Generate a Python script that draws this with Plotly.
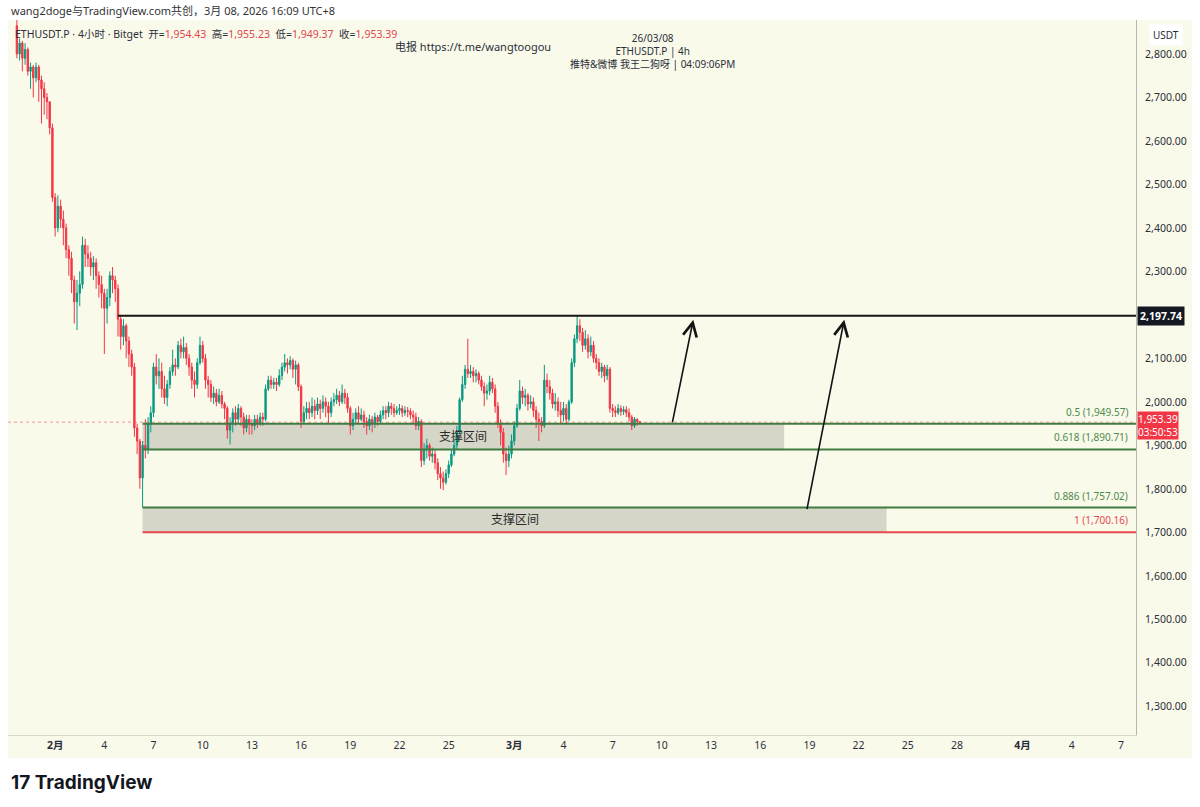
import plotly.graph_objects as go
import pandas as pd

# ---------------- data (4h candles, ETHUSDT.P) ----------------
first_open = 2865
close = [
    2800, 2825,
    2790, 2810, 2760, 2770, 2745, 2770,
    2740, 2720, 2700, 2690, 2630, 2470,
    2400, 2450, 2420, 2400, 2350, 2330,
    2280, 2230, 2250, 2270, 2360, 2340,
    2330, 2310, 2320, 2290, 2270, 2250,
    2215, 2240, 2290, 2280, 2260, 2190,
    2150, 2175, 2140, 2110, 2080, 1940,
    1910, 1825, 1900, 1890, 1950, 1975,
    2080, 2060, 2070, 2030, 2010, 2040,
    2070, 2085, 2080, 2130, 2115, 2125,
    2100, 2080, 2050, 2040, 2090, 2130,
    2100, 2050, 2040, 2010, 2020, 2000,
    2015, 1995, 1985, 1935, 1950, 1975,
    1960, 1985, 1965, 1940, 1960, 1950,
    1945, 1960, 1950, 1965, 1960, 2030,
    2050, 2040, 2045, 2040, 2060, 2080,
    2090, 2085, 2095, 2075, 2085, 2035,
    1955, 1975, 1985, 1975, 1990, 1980,
    1995, 1985, 2000, 1990, 1975, 2000,
    2005, 2015, 2000, 2020, 2010, 1985,
    1945, 1960, 1975, 1960, 1970, 1955,
    1945, 1960, 1950, 1965, 1955, 1970,
    1980, 1975, 1990, 1985, 1975, 1980,
    1985, 1975, 1980, 1978, 1970, 1965,
    1945, 1955, 1865, 1890, 1900, 1875,
    1880, 1860, 1835, 1825, 1815, 1835,
    1855, 1880, 1900, 1930, 2005, 2040,
    2075, 2065, 2070, 2060, 2065, 2050,
    2035, 2020, 2025, 2045, 2030, 1990,
    1950, 1930, 1880, 1865, 1880, 1910,
    1945, 1985, 2025, 2010, 2015, 1995,
    2000, 1980, 1960, 1955, 1945, 2050,
    2035, 2020, 1995, 2000, 1980, 1970,
    1985, 1960, 2000, 2090, 2145, 2175,
    2160, 2130, 2145, 2115, 2130, 2100,
    2090, 2070, 2080, 2060, 2075, 1985,
    1980, 1975, 1985, 1978, 1982, 1975,
    1965, 1945, 1960, 1954.43, 1953.39,
]
high = [
    2878, 2835,
    2830, 2825, 2815, 2780, 2775, 2780,
    2775, 2750, 2735, 2710, 2690, 2640,
    2480, 2475, 2465, 2440, 2410, 2360,
    2345, 2290, 2280, 2300, 2380, 2375,
    2360, 2345, 2335, 2330, 2300, 2290,
    2260, 2260, 2300, 2310, 2290, 2270,
    2200, 2190, 2180, 2150, 2120, 2090,
    1950, 1915, 1910, 1960, 1965, 1990,
    2090, 2110, 2100, 2090, 2060, 2050,
    2080, 2120, 2100, 2140, 2145, 2150,
    2135, 2110, 2090, 2070, 2100, 2150,
    2140, 2110, 2060, 2050, 2035, 2030,
    2030, 2025, 2000, 1990, 1965, 1985,
    1990, 1995, 1990, 1975, 1970, 1970,
    1960, 1970, 1970, 1975, 1975, 2040,
    2060, 2060, 2055, 2055, 2075, 2090,
    2110, 2100, 2105, 2100, 2095, 2090,
    2040, 1990, 2000, 2000, 2010, 2005,
    2010, 2005, 2015, 2010, 2000, 2010,
    2020, 2030, 2025, 2040, 2030, 2020,
    1990, 1975, 1985, 1990, 1985, 1980,
    1965, 1970, 1968, 1975, 1970, 1980,
    1990, 1990, 2000, 1998, 1995, 1990,
    1995, 1992, 1990, 1988, 1985, 1980,
    1975, 1965, 1960, 1905, 1915, 1905,
    1895, 1890, 1870, 1850, 1840, 1845,
    1865, 1890, 1915, 1945, 2010, 2060,
    2085, 2145, 2085, 2080, 2075, 2070,
    2060, 2045, 2040, 2060, 2055, 2040,
    2000, 1960, 1940, 1895, 1900, 1925,
    1955, 1995, 2050, 2035, 2030, 2020,
    2015, 2010, 1990, 1975, 1965, 2085,
    2065, 2050, 2030, 2020, 2010, 2000,
    2000, 1995, 2005, 2100, 2155, 2198,
    2190, 2170, 2165, 2155, 2150, 2140,
    2110, 2100, 2090, 2085, 2085, 2080,
    1995, 1990, 1995, 1992, 1990, 1990,
    1985, 1970, 1965, 1962, 1955.23,
]
low = [
    2790, 2785,
    2760, 2775, 2750, 2720, 2700, 2735,
    2690, 2640, 2660, 2650, 2615, 2460,
    2380, 2390, 2400, 2360, 2330, 2290,
    2250, 2180, 2165, 2220, 2260, 2310,
    2310, 2290, 2280, 2260, 2240, 2215,
    2110, 2180, 2220, 2250, 2230, 2150,
    2120, 2130, 2100, 2080, 2060, 1920,
    1880, 1800, 1757, 1870, 1880, 1930,
    1965, 2040, 2030, 2010, 1995, 1990,
    2030, 2060, 2060, 2075, 2100, 2100,
    2085, 2060, 2030, 2010, 2030, 2085,
    2090, 2030, 2010, 2000, 1995, 1990,
    1995, 1985, 1960, 1915, 1902, 1930,
    1945, 1950, 1945, 1925, 1930, 1925,
    1925, 1935, 1940, 1945, 1945, 1955,
    2025, 2030, 2030, 2025, 2035, 2050,
    2070, 2065, 2075, 2055, 2040, 2025,
    1940, 1950, 1960, 1960, 1965, 1960,
    1970, 1960, 1975, 1965, 1950, 1965,
    1990, 1995, 1990, 1995, 1995, 1975,
    1925, 1935, 1950, 1950, 1955, 1940,
    1925, 1935, 1930, 1940, 1945, 1950,
    1960, 1960, 1965, 1970, 1965, 1970,
    1970, 1965, 1968, 1965, 1960, 1950,
    1935, 1935, 1850, 1855, 1870, 1865,
    1860, 1845, 1820, 1800, 1797, 1810,
    1825, 1850, 1875, 1890, 1925, 2000,
    2030, 2055, 2055, 2045, 2045, 2040,
    2025, 1990, 2005, 2015, 2020, 1975,
    1940, 1900, 1860, 1832, 1850, 1870,
    1900, 1940, 1980, 1995, 1990, 1980,
    1985, 1965, 1940, 1910, 1930, 1940,
    2020, 2005, 1985, 1980, 1965, 1950,
    1955, 1950, 1955, 1995, 2080, 2135,
    2140, 2115, 2120, 2100, 2105, 2090,
    2075, 2060, 2055, 2045, 2050, 1975,
    1965, 1965, 1970, 1968, 1970, 1965,
    1955, 1935, 1940, 1945, 1949.37,
]
start_time = "2026-01-29 16:00"

# drawing values
resistance = 2197.74
resistance_start = "2026-02-04 20:00"
fib_ratios = ["0.5", "0.618", "0.886", "1"]
fib_prices = [1949.57, 1890.71, 1757.02, 1700.16]
fib_start = "2026-02-06 08:00"
zone_label = "支撑区间"
zone1 = dict(x0=fib_start, x1="2026-03-17 11:00", y0=1890.71, y1=1949.57)
zone2 = dict(x0=fib_start, x1="2026-03-23 17:00", y0=1700.16, y1=1757.02)
arrow_tails = [("2026-03-10 15:00", 1949.57), ("2026-03-18 20:00", 1750.0)]
arrow_heads = [("2026-03-11 22:00", 2189.0), ("2026-03-21 03:00", 2189.0)]
last_price = 1953.39
countdown = "03:50:53"

x_range = ["2026-01-29 03:00", "2026-04-07 22:00"]
y_range = [1234, 2878]
y_ticks = [1300, 1400, 1500, 1600, 1700, 1800, 1900, 2000, 2100, 2300, 2400, 2500, 2600, 2700, 2800]
x_tick_dates = ["2026-02-01", "2026-02-04", "2026-02-07", "2026-02-10", "2026-02-13",
                "2026-02-16", "2026-02-19", "2026-02-22", "2026-02-25", "2026-03-01",
                "2026-03-04", "2026-03-07", "2026-03-10", "2026-03-13", "2026-03-16",
                "2026-03-19", "2026-03-22", "2026-03-25", "2026-03-28", "2026-04-01",
                "2026-04-04", "2026-04-07"]
x_tick_text = ["<b>2月</b>", "4", "7", "10", "13", "16", "19", "22", "25", "<b>3月</b>",
               "4", "7", "10", "13", "16", "19", "22", "25", "28", "<b>4月</b>", "4", "7"]

# ---------------- figure ----------------
W, H = 1200, 807
ML, MR, MT, MB = 8, 64, 20, 72
PW, PH = W - ML - MR, H - MT - MB


def px(xp):
    return (xp - ML) / PW


def py(yp):
    return (H - MB - yp) / PH


CREAM = "#FAFAEB"
GREEN = "#089981"
RED = "#F23645"
FIB_GREEN = "#3E7B40"
FONT = "Noto Sans, Noto Sans CJK SC, sans-serif"
TXT = "#2a2e39"

times = pd.date_range(start_time, periods=len(close), freq="4h")
opens = [first_open] + close[:-1]

fig = go.Figure()
fig.add_trace(go.Candlestick(
    x=times, open=opens, high=high, low=low, close=close,
    increasing=dict(line=dict(color=GREEN, width=1), fillcolor=GREEN),
    decreasing=dict(line=dict(color=RED, width=1), fillcolor=RED),
    whiskerwidth=0, hoverinfo="skip", showlegend=False,
))

shapes = []
# panel background (including axis areas)
shapes.append(dict(type="rect", xref="paper", yref="paper", x0=0, x1=px(1192), y0=py(758), y1=1,
                   fillcolor=CREAM, line=dict(width=0), layer="below"))
# zones
for z in (zone1, zone2):
    shapes.append(dict(type="rect", xref="x", yref="y", x0=z["x0"], x1=z["x1"], y0=z["y0"], y1=z["y1"],
                       fillcolor="#D5D6C8", line=dict(width=0), layer="below"))
# current price dotted line
shapes.append(dict(type="line", xref="x", yref="y", x0=x_range[0], x1=x_range[1], y0=last_price, y1=last_price,
                   line=dict(color="rgba(242,54,69,0.5)", width=1, dash="dot"), layer="below"))
# resistance line
shapes.append(dict(type="line", xref="x", yref="y", x0=resistance_start, x1=x_range[1], y0=resistance, y1=resistance,
                   line=dict(color="#141414", width=2), layer="above"))
# fib lines
for r, p in zip(fib_ratios, fib_prices):
    col = "#E5484D" if r == "1" else FIB_GREEN
    shapes.append(dict(type="line", xref="x", yref="y", x0=fib_start, x1=x_range[1], y0=p, y1=p,
                       line=dict(color=col, width=2), layer="above"))

annotations = []
# fib labels
for r, p in zip(fib_ratios, fib_prices):
    col = "#E5484D" if r == "1" else "#4A8A4C"
    annotations.append(dict(xref="paper", yref="y", x=1, y=p, xanchor="right", yanchor="bottom",
                            xshift=-6, yshift=3, showarrow=False,
                            text=f"{r} ({p:,.2f})", font=dict(family=FONT, size=10, color=col)))
# zone labels
for z in (zone1, zone2):
    mid_t = pd.Timestamp(z["x0"]) + (pd.Timestamp(z["x1"]) - pd.Timestamp(z["x0"])) / 2
    annotations.append(dict(xref="x", yref="y", x=mid_t, y=(z["y0"] + z["y1"]) / 2, showarrow=False,
                            yanchor="middle", text=zone_label,
                            font=dict(family=FONT, size=12, color="#2a2a2a")))
# arrows
for (tx, ty), (hx, hy) in zip(arrow_tails, arrow_heads):
    annotations.append(dict(xref="x", yref="y", axref="x", ayref="y", x=hx, y=hy, ax=tx, ay=ty,
                            text="", showarrow=True, arrowhead=5, arrowsize=1.7, arrowwidth=1.6,
                            arrowcolor="#141414", standoff=0, startstandoff=0))
# price labels on the axis
annotations.append(dict(xref="paper", yref="y", x=1, y=resistance, xanchor="left", yanchor="middle",
                        xshift=1, showarrow=False, bgcolor="#131722", borderpad=2,
                        text=f"<b>{resistance:,.2f}</b>", font=dict(family=FONT, size=10.5, color="white")))
annotations.append(dict(xref="paper", yref="y", x=1, y=last_price, xanchor="left", yanchor="top",
                        xshift=1, yshift=11, showarrow=False, bgcolor="#F23645", borderpad=0,
                        text=f"{last_price:,.2f}<br>{countdown}", font=dict(family=FONT, size=10, color="white")))
annotations.append(dict(xref="paper", yref="paper", x=px(1166), y=py(35), xanchor="center", yanchor="middle",
                        showarrow=False, bgcolor="white", borderpad=3, text="USDT",
                        font=dict(family=FONT, size=10, color=TXT)))
# header texts
annotations.append(dict(xref="paper", yref="paper", x=px(9), y=py(10), xanchor="left", yanchor="middle",
                        showarrow=False, text="wang2doge与TradingView.com共创，3月 08, 2026 16:09 UTC+8",
                        font=dict(family=FONT, size=11, color="#333333")))
R = "#E0454F"
legend_txt = ("ETHUSDT.P · 4小时 · Bitget  "
              f"开=<span style='color:{R}'>1,954.43</span>  高=<span style='color:{R}'>1,955.23</span>  "
              f"低=<span style='color:{R}'>1,949.37</span>  收=<span style='color:{R}'>1,953.39</span>")
annotations.append(dict(xref="paper", yref="paper", x=px(13), y=py(34), xanchor="left", yanchor="middle",
                        showarrow=False, text=legend_txt, font=dict(family=FONT, size=10.5, color=TXT)))
annotations.append(dict(xref="paper", yref="paper", x=px(393), y=py(46), xanchor="left", yanchor="middle",
                        showarrow=False, text="电报 https://t.me/wangtoogou",
                        font=dict(family=FONT, size=11, color=TXT)))
annotations.append(dict(xref="paper", yref="paper", x=px(652), y=py(51), xanchor="center", yanchor="middle",
                        showarrow=False, align="center",
                        text="26/03/08<br>ETHUSDT.P | 4h<br>推特&微博 我王二狗呀 | 04:09:06PM",
                        font=dict(family=FONT, size=10, color=TXT)))
# TradingView logo
annotations.append(dict(xref="paper", yref="paper", x=px(9), y=py(782), xanchor="left", yanchor="middle",
                        showarrow=False, text="<b>17 TradingView</b>",
                        font=dict(family="Inter, Noto Sans, sans-serif", size=19, color="#131722")))

fig.update_layout(
    width=W, height=H,
    margin=dict(l=ML, r=MR, t=MT, b=MB),
    paper_bgcolor="white", plot_bgcolor=CREAM,
    shapes=shapes, annotations=annotations,
    showlegend=False, hovermode=False,
    font=dict(family=FONT, size=11, color=TXT),
    xaxis=dict(type="date", range=x_range, rangeslider=dict(visible=False),
               tickvals=x_tick_dates, ticktext=x_tick_text, showgrid=False, zeroline=False,
               showline=True, linecolor="#D8D8C8", linewidth=1, ticks="",
               tickfont=dict(family=FONT, size=10.5, color=TXT), fixedrange=True),
    yaxis=dict(range=y_range, side="right", tickvals=y_ticks, tickformat=",.2f",
               showgrid=False, zeroline=False, showline=True, linecolor="#B7B7AC", linewidth=1,
               ticks="", ticklabelstandoff=6, tickfont=dict(family=FONT, size=10.5, color=TXT),
               fixedrange=True),
)

fig.write_html("out.html")
